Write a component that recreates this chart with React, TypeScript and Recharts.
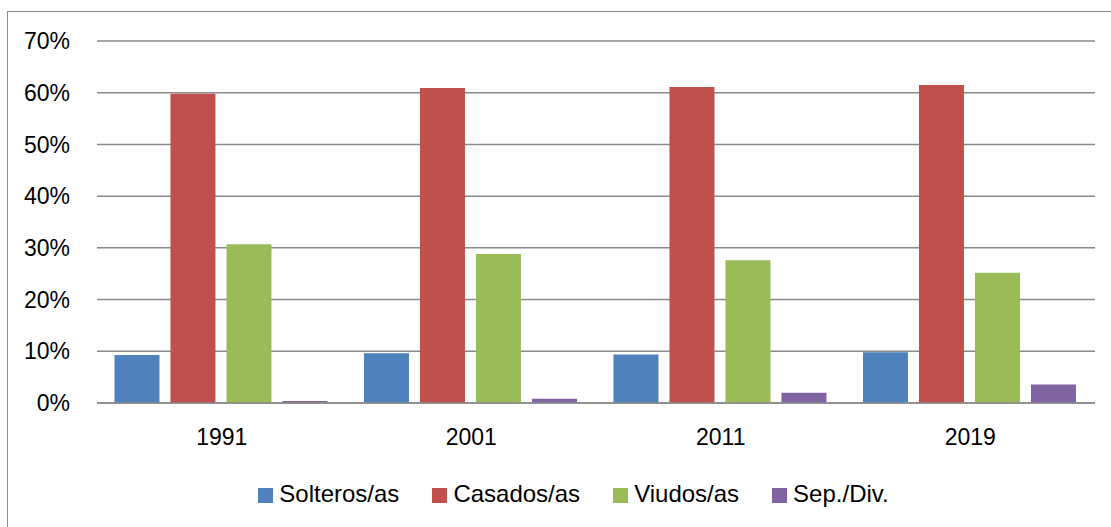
import React from 'react';
import { BarChart, Bar, XAxis, YAxis, CartesianGrid, Legend } from 'recharts';

const years = ['1991', '2001', '2011', '2019'];
const solteros = [9.3, 9.6, 9.4, 9.8];
const casados = [59.8, 60.9, 61.1, 61.5];
const viudos = [30.7, 28.8, 27.6, 25.2];
const sepDiv = [0.4, 0.8, 2.0, 3.6];
const yTicks = [0, 10, 20, 30, 40, 50, 60, 70];
const seriesOrder = ['solteros', 'casados', 'viudos', 'sepDiv'];

const data = years.map((year, i) => ({
  year,
  solteros: solteros[i],
  casados: casados[i],
  viudos: viudos[i],
  sepDiv: sepDiv[i],
}));

const font = '"Liberation Sans", Arial, sans-serif';

const App: React.FC = () => {
  return (
    <div style={{ position: 'fixed', left: 0, top: 0, width: 1111, height: 527, overflow: 'hidden', background: '#fff', fontFamily: font }}>
      <div style={{ position: 'absolute', left: 7, top: 11, width: 1120, height: 540, border: '1.5px solid #8c8c8c' }} />
      <div style={{ position: 'absolute', left: 0, top: 0 }}>
        <BarChart
          width={1111}
          height={527}
          data={data}
          margin={{ top: 41, right: 16, left: 7, bottom: 14 }}
          barCategoryGap="7%"
          barGap={11}
        >
          <CartesianGrid vertical={false} stroke="#8a8a8a" strokeWidth={1.5} />
          <XAxis
            dataKey="year"
            axisLine={{ stroke: '#8a8a8a', strokeWidth: 1.5 }}
            tickLine={false}
            tickSize={0}
            tickMargin={26}
            height={81}
            tick={{ fill: '#000', fontSize: 23, fontFamily: font }}
          />
          <YAxis
            domain={[0, 70]}
            ticks={yTicks}
            tickFormatter={(v: number) => `${v}%`}
            axisLine={false}
            tickLine={false}
            tickSize={0}
            tickMargin={27}
            width={90}
            tick={{ fill: '#000', fontSize: 23, fontFamily: font }}
          />
          <Legend
            iconType="square"
            iconSize={15}
            itemSorter={(item: any) => seriesOrder.indexOf(item.dataKey)}
            wrapperStyle={{ top: 480, bottom: 'auto', left: 46, height: 29, fontSize: 24, fontFamily: font }}
            formatter={(value: string) => (
              <span style={{ color: '#000', marginLeft: 2, paddingRight: 23 }}>{value}</span>
            )}
          />
          <Bar dataKey="solteros" name="Solteros/as" fill="#4F81BD" isAnimationActive={false} />
          <Bar dataKey="casados" name="Casados/as" fill="#C0504D" isAnimationActive={false} />
          <Bar dataKey="viudos" name="Viudos/as" fill="#9BBB59" isAnimationActive={false} />
          <Bar dataKey="sepDiv" name="Sep./Div." fill="#8064A2" isAnimationActive={false} />
        </BarChart>
      </div>
    </div>
  );
};

export default App;
